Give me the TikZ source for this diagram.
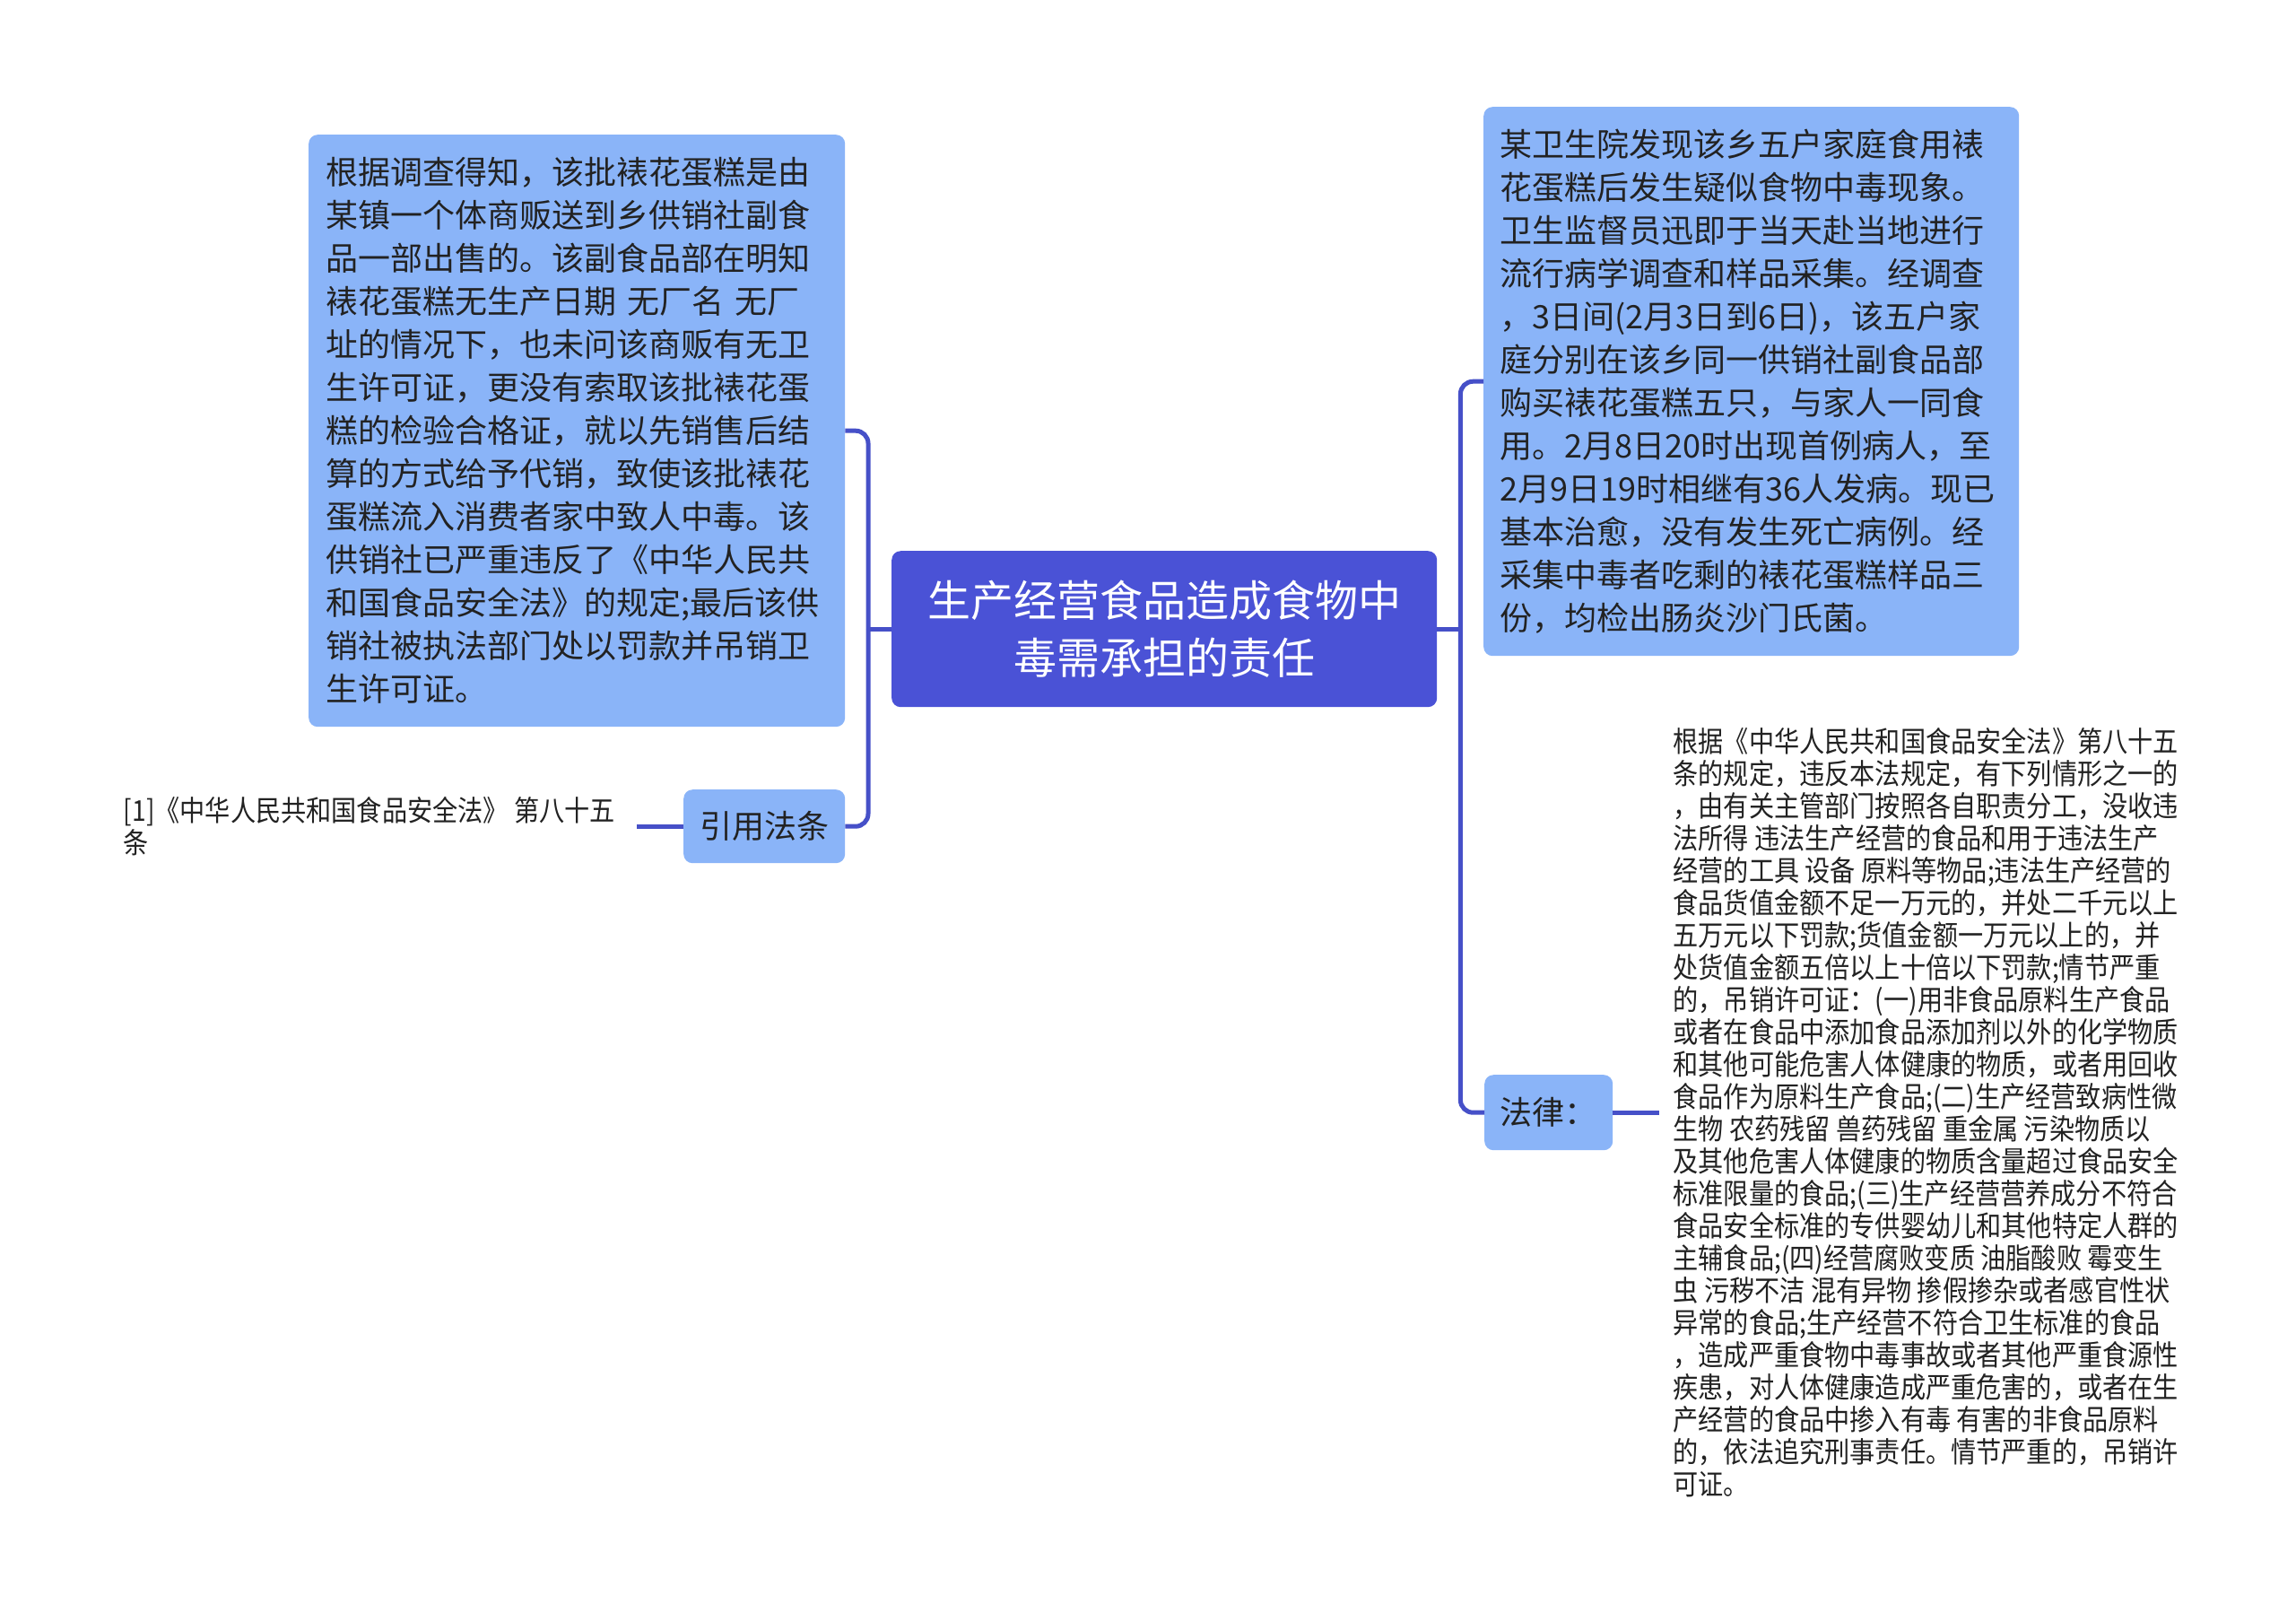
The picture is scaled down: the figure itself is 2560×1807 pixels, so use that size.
\documentclass[tikz,border=0pt]{standalone}
\usepackage{fontspec}
\setmainfont{Noto Sans CJK SC}
\newfontfamily\lawfont[FakeStretch=0.88]{Noto Sans CJK SC}
\usetikzlibrary{calc}
\definecolor{cmain}{HTML}{4A52D6}
\definecolor{csub}{HTML}{8AB4F8}
\definecolor{cline}{HTML}{4650C8}
\definecolor{ctext}{HTML}{222222}
\begin{document}
\begin{tikzpicture}[x=1pt,y=-1pt,
  box/.style={fill=csub, rounded corners=10pt, text=ctext, inner sep=0pt,
    font=\fontsize{36}{48}\selectfont, align=left},
  mainbox/.style={fill=cmain, rounded corners=10pt, text=white, inner sep=0pt,
    font=\fontsize{48}{64}\selectfont, align=center},
  plain/.style={text=ctext, inner ysep=0pt, align=left,
    font=\lawfont\fontsize{32}{36}\selectfont},
  conn/.style={draw=cline, line width=5pt}]
\fill[white] (0,0) rectangle (2560,1807);
\useasboundingbox (0,0) rectangle (2560,1807);

\node[mainbox, minimum width=608pt, minimum height=174pt, anchor=north west] (c) at (994,614)
  {生产经营食品造成食物中\\毒需承担的责任};

\node[box, minimum width=598pt, minimum height=660pt, text width=560pt, anchor=north west] (l1) at (344,150)
  {根据调查得知，该批裱花蛋糕是由\\
   某镇一个体商贩送到乡供销社副食\\
   品一部出售的。该副食品部在明知\\
   裱花蛋糕无生产日期 无厂名 无厂\\
   址的情况下，也未问该商贩有无卫\\
   生许可证，更没有索取该批裱花蛋\\
   糕的检验合格证，就以先销售后结\\
   算的方式给予代销，致使该批裱花\\
   蛋糕流入消费者家中致人中毒。该\\
   供销社已严重违反了《中华人民共\\
   和国食品安全法》的规定;最后该供\\
   销社被执法部门处以罚款并吊销卫\\
   生许可证。};

\node[box, minimum width=180pt, minimum height=82pt, align=center, anchor=north west] (l2) at (762,880)
  {引用法条};

\node[plain, anchor=east, inner xsep=24pt] (ref) at ($(l2.west)+(-52,0)$)
  {[1]《中华人民共和国食品安全法》 第八十五\\条};

\node[box, minimum width=597pt, minimum height=612pt, text width=560pt, anchor=north west] (r1) at (1654,119)
  {某卫生院发现该乡五户家庭食用裱\\
   花蛋糕后发生疑似食物中毒现象。\\
   卫生监督员迅即于当天赴当地进行\\
   流行病学调查和样品采集。经调查\\
   ，3日间(2月3日到6日)，该五户家\\
   庭分别在该乡同一供销社副食品部\\
   购买裱花蛋糕五只，与家人一同食\\
   用。2月8日20时出现首例病人，至\\
   2月9日19时相继有36人发病。现已\\
   基本治愈，没有发生死亡病例。经\\
   采集中毒者吃剩的裱花蛋糕样品三\\
   份，均检出肠炎沙门氏菌。};

\node[box, minimum width=143pt, minimum height=84pt, align=center, anchor=north west] (r2) at (1655,1198)
  {法律：};

\node[plain, anchor=west, inner xsep=15pt] (law) at ($(r2.east)+(52,0)$)
  {根据《中华人民共和国食品安全法》第八十五\\
   条的规定，违反本法规定，有下列情形之一的\\
   ，由有关主管部门按照各自职责分工，没收违\\
   法所得 违法生产经营的食品和用于违法生产\\
   经营的工具 设备 原料等物品;违法生产经营的\\
   食品货值金额不足一万元的，并处二千元以上\\
   五万元以下罚款;货值金额一万元以上的，并\\
   处货值金额五倍以上十倍以下罚款;情节严重\\
   的，吊销许可证：(一)用非食品原料生产食品\\
   或者在食品中添加食品添加剂以外的化学物质\\
   和其他可能危害人体健康的物质，或者用回收\\
   食品作为原料生产食品;(二)生产经营致病性微\\
   生物 农药残留 兽药残留 重金属 污染物质以\\
   及其他危害人体健康的物质含量超过食品安全\\
   标准限量的食品;(三)生产经营营养成分不符合\\
   食品安全标准的专供婴幼儿和其他特定人群的\\
   主辅食品;(四)经营腐败变质 油脂酸败 霉变生\\
   虫 污秽不洁 混有异物 掺假掺杂或者感官性状\\
   异常的食品;生产经营不符合卫生标准的食品\\
   ，造成严重食物中毒事故或者其他严重食源性\\
   疾患，对人体健康造成严重危害的，或者在生\\
   产经营的食品中掺入有毒 有害的非食品原料\\
   的，依法追究刑事责任。情节严重的，吊销许\\
   可证。};

\coordinate (jl) at ($(c.west)+(-26,0)$);
\coordinate (jr) at ($(c.east)+(26,0)$);
\draw[conn] (c.west) -- (jl);
\draw[conn, rounded corners=14pt] (jl) |- (l1.east);
\draw[conn, rounded corners=14pt] (jl) |- (l2.east);
\draw[conn] (c.east) -- (jr);
\draw[conn, rounded corners=14pt] (jr) |- (r1.west);
\draw[conn, rounded corners=14pt] (jr) |- (r2.west);
\draw[conn] (l2.west) -- (ref.east);
\draw[conn] (r2.east) -- (law.west);
\end{tikzpicture}
\end{document}
